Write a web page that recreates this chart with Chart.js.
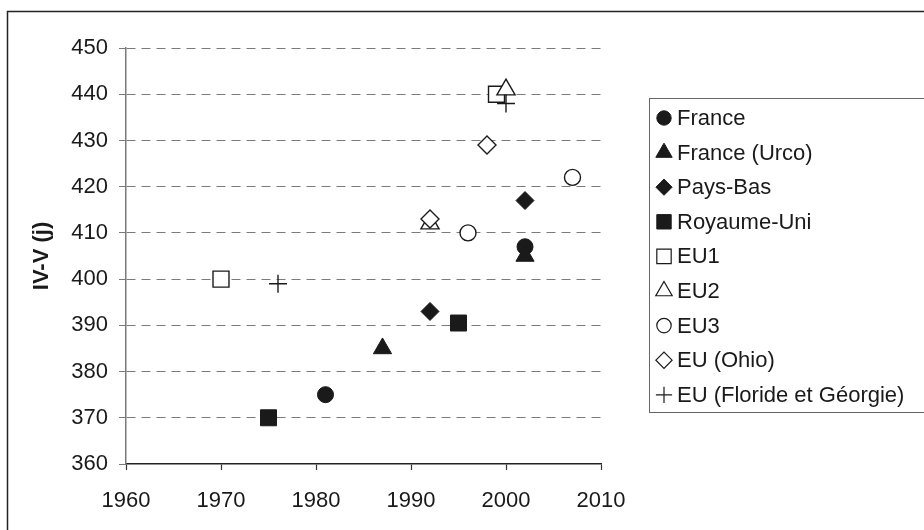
<!DOCTYPE html>
<html>
<head>
<meta charset="utf-8">
<script src="https://cdn.jsdelivr.net/npm/chart.js@4"></script>
<style>
  html, body { margin: 0; padding: 0; background: #fff; }
  #wrap { width: 924px; height: 530px; position: relative; }
</style>
</head>
<body>
<div id="wrap"><canvas id="chart" width="924" height="530"></canvas></div>
<script>
// Data (year, IV-V in days)
const seriesNames = [
  "France", "France (Urco)", "Pays-Bas", "Royaume-Uni",
  "EU1", "EU2", "EU3", "EU (Ohio)", "EU (Floride et Géorgie)"
];
const franceYears = [1981, 2002];
const franceValues = [375, 407];
const urcoYears = [1987, 2002];
const urcoValues = [385, 405];
const paysBasYears = [1992, 2002];
const paysBasValues = [393, 417];
const ruYears = [1975, 1995];
const ruValues = [370, 390.5];
const eu1Years = [1970, 1999];
const eu1Values = [400, 440];
const eu2Years = [1992, 2000];
const eu2Values = [412, 441];
const eu3Years = [1996, 2007];
const eu3Values = [410, 422];
const ohioYears = [1992, 1998];
const ohioValues = [413, 429];
const florideYears = [1976, 2000];
const florideValues = [399, 438];

const xTicks = [1960, 1970, 1980, 1990, 2000, 2010];
const yTicks = [360, 370, 380, 390, 400, 410, 420, 430, 440, 450];

const FONT = "'Liberation Sans', Arial, sans-serif";
const FSIZE = 22;
const INK = "#1a1a1a";
const GRID = "#7a7a7a";

function pts(xs, ys) {
  return xs.map((x, i) => ({ x: x, y: ys[i] }));
}

// marker look per series
const markers = [
  { style: "circle",   radius: 8,    fill: INK },
  { style: "triangle", radius: 10.5, fill: INK },
  { style: "rectRot",  radius: 9,    fill: INK },
  { style: "rect",     radius: 11.3, fill: INK },
  { style: "rect",     radius: 11.3, fill: "#fff" },
  { style: "triangle", radius: 10.5, fill: "#fff" },
  { style: "circle",   radius: 8,    fill: "#fff" },
  { style: "rectRot",  radius: 9,    fill: "#fff" },
  { style: "cross",    radius: 9,    fill: "#fff" }
];

const allData = [
  pts(franceYears, franceValues),
  pts(urcoYears, urcoValues),
  pts(paysBasYears, paysBasValues),
  pts(ruYears, ruValues),
  pts(eu1Years, eu1Values),
  pts(eu2Years, eu2Values),
  pts(eu3Years, eu3Values),
  pts(ohioYears, ohioValues),
  pts(florideYears, florideValues)
];

const datasets = allData.map((d, i) => ({
  label: seriesNames[i],
  data: d,
  pointStyle: markers[i].style,
  pointRadius: markers[i].radius,
  pointBackgroundColor: markers[i].fill,
  pointBorderColor: INK,
  pointBorderWidth: markers[i].fill === INK ? 1 : 1.4,
  showLine: false,
  order: -i   // later series on top, like the original
}));

// frame + boxed legend on the right
const frameLegend = {
  id: "frameLegend",
  afterDraw(chart) {
    const ctx = chart.ctx;
    ctx.save();
    ctx.strokeStyle = "#222";
    ctx.lineWidth = 1.5;
    ctx.beginPath();
    ctx.moveTo(7.5, 530);
    ctx.lineTo(7.5, 11.5);
    ctx.lineTo(924, 11.5);
    ctx.stroke();

    ctx.strokeStyle = "#666";
    ctx.lineWidth = 1;
    ctx.strokeRect(649.5, 98.5, 320, 314);

    const step = 34.6;
    ctx.font = FSIZE + "px " + FONT;
    ctx.textBaseline = "middle";
    ctx.textAlign = "left";
    seriesNames.forEach((name, i) => {
      const y = 118 + i * step;
      const m = markers[i];
      ctx.fillStyle = m.fill;
      ctx.strokeStyle = INK;
      ctx.lineWidth = m.fill === INK ? 1 : 1.2;
      Chart.helpers.drawPoint(ctx, {
        pointStyle: m.style,
        radius: m.radius * 0.9,
        borderWidth: ctx.lineWidth,
        rotation: 0
      }, 664, y);
      ctx.fillStyle = INK;
      ctx.fillText(name, 677, y + 1);
    });
    ctx.restore();
  }
};

new Chart(document.getElementById("chart"), {
  type: "scatter",
  data: { datasets: datasets },
  plugins: [frameLegend],
  options: {
    responsive: false,
    animation: false,
    layout: { padding: { left: 8, top: 48, right: 323, bottom: 14 } },
    plugins: {
      legend: { display: false },
      tooltip: { enabled: false }
    },
    scales: {
      x: {
        type: "linear",
        min: xTicks[0],
        max: xTicks[xTicks.length - 1],
        afterBuildTicks: s => { s.ticks = xTicks.map(v => ({ value: v })); },
        afterFit: s => { s.height = 52; },
        ticks: {
          font: { family: FONT, size: FSIZE },
          color: INK,
          padding: 18,
          callback: v => String(v)
        },
        grid: {
          drawOnChartArea: false,
          drawTicks: true,
          tickLength: 6,
          tickColor: "#333",
          tickWidth: 1.2
        },
        border: { color: "#222", width: 1.5 }
      },
      y: {
        min: yTicks[0],
        max: yTicks[yTicks.length - 1],
        afterBuildTicks: s => { s.ticks = yTicks.map(v => ({ value: v })); },
        afterFit: s => { s.width = 118; },
        ticks: {
          font: { family: FONT, size: FSIZE },
          color: INK,
          padding: 11,
          callback: v => String(v)
        },
        grid: {
          // no dashed line on top of the x axis
          color: c => (c.tick && c.tick.value === yTicks[0]) ? "rgba(0,0,0,0)" : GRID,
          lineWidth: 1,
          tickLength: 7,
          tickColor: GRID
        },
        border: { color: GRID, width: 1.5, dash: [9, 6] },
        title: {
          display: true,
          text: "IV-V (j)",
          color: INK,
          font: { family: FONT, size: FSIZE, weight: "bold" },
          padding: { top: 21, bottom: 0 }
        }
      }
    }
  }
});
</script>
</body>
</html>
